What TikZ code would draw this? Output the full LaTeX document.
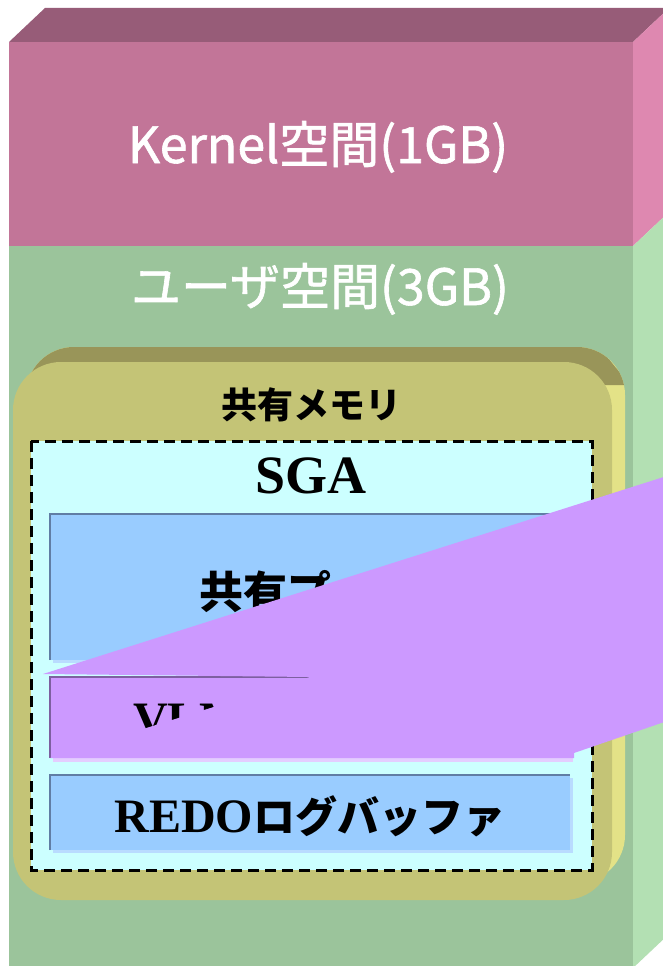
\documentclass[tikz,border=0pt]{standalone}
\usepackage{fontspec}
\newfontfamily\jpfont{Noto Sans CJK JP}
\newfontfamily\jpmid{Noto Sans CJK JP}[FakeBold=1.2]
\newfontfamily\tmfont{Liberation Serif}
\definecolor{kerneltop}{RGB}{151,92,120}
\definecolor{kernelfront}{RGB}{194,117,152}
\definecolor{kernelside}{RGB}{222,136,176}
\definecolor{userfront}{RGB}{155,196,155}
\definecolor{userside}{RGB}{179,224,179}
\definecolor{shmfront}{RGB}{196,196,118}
\definecolor{shmdark}{RGB}{153,149,89}
\definecolor{shmlight}{RGB}{227,226,135}
\definecolor{sgacyan}{RGB}{204,255,255}
\definecolor{poolblue}{RGB}{153,204,255}
\definecolor{poolshade}{RGB}{185,220,255}
\definecolor{pooledge}{RGB}{96,125,165}
\definecolor{vlmpurple}{RGB}{204,153,255}
\definecolor{vlmshade}{RGB}{228,205,255}
\definecolor{vlmedge}{RGB}{125,95,160}

\begin{document}
\begin{tikzpicture}[x=1pt,y=-1pt]
  \def\r{48}
  \useasboundingbox (0,0) rectangle (662,966);
  \fill[white] (0,0) rectangle (662,966);
  \fill[kerneltop] (9,42) -- (45,8) -- (669,8) -- (633,42) -- cycle;
  \fill[kernelfront] (9,42) rectangle (633,246);
  \fill[kernelside] (633,42) -- (669,8) -- (669,212) -- (633,246) -- cycle;
  \fill[userfront] (9,246) rectangle (633,970);
  \fill[userside] (633,246) -- (669,212) -- (669,934) -- (633,968) -- cycle;
  \fill[shmlight, rounded corners=\r] (26,347) rectangle (625,883);
  \begin{scope}
    \clip[rounded corners=\r] (26,347) rectangle (625,883);
    \fill[shmdark] (0,330) -- (585,330) -- (630,385) -- (0,385) -- cycle;
  \end{scope}
  \fill[shmfront, rounded corners=\r] (13,362) rectangle (612,900);
  \draw[black, line width=3pt, dash pattern=on 11pt off 6pt, fill=sgacyan] (31,441) rectangle (592,870);
  \fill[poolshade] (53,517) rectangle (573,663);
  \fill[poolblue] (50,514) rectangle (570,660);
  \draw[pooledge, line width=2pt] (50,660) -- (50,514) -- (570,514);
  \fill[vlmshade] (53,679) rectangle (573,762);
  \fill[vlmpurple] (50,676) rectangle (570,758);
  \draw[vlmedge, line width=2pt] (50,758) -- (50,677) -- (570,677);
  \fill[poolshade] (53,778) rectangle (573,853);
  \fill[poolblue] (50,775) rectangle (570,850);
  \draw[pooledge, line width=2pt] (50,850) -- (50,775) -- (570,775);
  \node[anchor=base, white, font=\jpmid\fontsize{50}{60}\selectfont] (kernel) at (318,163) {Kernel空間(1GB)};
  \node[anchor=base, white, font=\jpmid\fontsize{50}{60}\selectfont] (user) at (320,305) {ユーザ空間(3GB)};
  \node[font=\jpfont\bfseries\fontsize{36}{40}\selectfont] (shm) at (311,405) {共有メモリ};
  \node[anchor=base, font=\tmfont\bfseries\fontsize{54}{60}\selectfont] (sga) at (311,493) {SGA};
  \node[font=\jpfont\bfseries\fontsize{44}{48}\selectfont] (pool) at (309,592) {共有プール};
  \node[anchor=base west, inner sep=0pt, font=\tmfont\bfseries\fontsize{48}{48}\selectfont] (vlm) at (133,735) {VLM{\jpfont\fontsize{42}{42}\selectfont ウィンドウ}};
  \node[anchor=base, font=\tmfont\bfseries\fontsize{48}{48}\selectfont] (redo) at (310,832) {REDO{\jpfont\fontsize{42}{42}\selectfont ログバッファ}};
  \fill[vlmpurple] (43,674) -- (670,475) -- (670,720) -- (574,753) -- (574,758) -- (50,758) -- (310,677) -- cycle;
\end{tikzpicture}
\end{document}
